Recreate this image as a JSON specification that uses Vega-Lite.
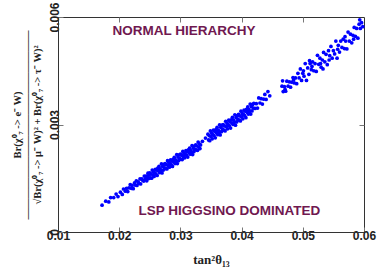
{
"$schema": "https://vega.github.io/schema/vega-lite/v6.json",
"width": 306, "height": 215,
"autosize": {"type": "none"},
"padding": {"left": 58, "top": 17, "right": 14, "bottom": 41},
"config": {
 "view": {"stroke": "#333", "strokeWidth": 1},
 "axis": {"grid": false, "labelFlush": false, "domainColor": "#333", "tickColor": "#777", "tickSize": -5, "labelFont": "Liberation Sans", "labelFontWeight": "bold", "labelFontSize": 12, "labelColor": "#222", "titleFont": "Liberation Serif", "titleFontWeight": "bold", "titleColor": "#222"}
},
"datasets": {
 "labels": [
  {"x": 0.0306, "y": 0.00561, "t": "NORMAL HIERARCHY"},
  {"x": 0.0380, "y": 0.00059, "t": "LSP HIGGSINO DOMINATED"}
 ],
 "pts": [
{"x":0.0172,"y":0.00075},{"x":0.0178,"y":0.00086},{"x":0.0183,"y":0.00084},{"x":0.0186,"y":0.00096},{"x":0.0191,"y":0.00096},{"x":0.0195,"y":0.00106},{"x":0.0198,"y":0.00099},{"x":0.0202,"y":0.00111},{"x":0.0205,"y":0.00105},{"x":0.0207,"y":0.0012},{"x":0.021,"y":0.00114},{"x":0.0212,"y":0.00122},{"x":0.0214,"y":0.00113},{"x":0.0216,"y":0.00123},{"x":0.0218,"y":0.00132},{"x":0.022,"y":0.00122},{"x":0.0221,"y":0.0013},{"x":0.0223,"y":0.00121},{"x":0.0225,"y":0.00137},{"x":0.0226,"y":0.00131},{"x":0.0228,"y":0.00143},{"x":0.0229,"y":0.0013},{"x":0.0231,"y":0.0014},{"x":0.0232,"y":0.00136},{"x":0.0234,"y":0.00148},{"x":0.0235,"y":0.00134},{"x":0.0237,"y":0.00148},{"x":0.0238,"y":0.00145},{"x":0.024,"y":0.00142},{"x":0.0241,"y":0.00156},{"x":0.0243,"y":0.00148},{"x":0.0244,"y":0.00156},{"x":0.0245,"y":0.00143},{"x":0.0246,"y":0.00155},{"x":0.0247,"y":0.00164},{"x":0.0248,"y":0.00149},{"x":0.0249,"y":0.00159},
{"x":0.025,"y":0.00165},{"x":0.0251,"y":0.00151},{"x":0.0252,"y":0.00162},{"x":0.0253,"y":0.0015},{"x":0.0254,"y":0.00173},{"x":0.0255,"y":0.00159},{"x":0.0256,"y":0.00168},{"x":0.0257,"y":0.00155},{"x":0.0258,"y":0.00165},{"x":0.0259,"y":0.00175},{"x":0.026,"y":0.00162},{"x":0.0261,"y":0.00173},{"x":0.0262,"y":0.00158},{"x":0.0263,"y":0.00178},{"x":0.0264,"y":0.00171},{"x":0.0265,"y":0.00183},{"x":0.0266,"y":0.00166},{"x":0.0267,"y":0.00176},{"x":0.0268,"y":0.00172},{"x":0.0269,"y":0.0019},{"x":0.027,"y":0.00165},{"x":0.0271,"y":0.00183},{"x":0.0272,"y":0.00173},{"x":0.0273,"y":0.00189},{"x":0.0274,"y":0.00179},{"x":0.0275,"y":0.00191},{"x":0.0276,"y":0.00177},{"x":0.0277,"y":0.00188},{"x":0.0278,"y":0.00176},{"x":0.0279,"y":0.00199},{"x":0.028,"y":0.00185},{"x":0.0281,"y":0.00194},{"x":0.0282,"y":0.00181},{"x":0.0283,"y":0.00191},{"x":0.0284,"y":0.00201},{"x":0.0285,"y":0.00188},{"x":0.0286,"y":0.00198},{"x":0.0287,"y":0.00183},{"x":0.0288,"y":0.00203},{"x":0.0289,"y":0.00196},{"x":0.029,"y":0.00208},{"x":0.0291,"y":0.00191},{"x":0.0292,"y":0.00201},{"x":0.0293,"y":0.00197},{"x":0.0294,"y":0.00216},{"x":0.0295,"y":0.00191},{"x":0.0296,"y":0.00209},{"x":0.0297,"y":0.00199},{"x":0.0298,"y":0.00215},{"x":0.0299,"y":0.00205},{"x":0.03,"y":0.00217},{"x":0.0301,"y":0.00203},{"x":0.0302,"y":0.00214},{"x":0.0303,"y":0.00202},{"x":0.0304,"y":0.00225},{"x":0.0305,"y":0.00211},{"x":0.0306,"y":0.0022},{"x":0.0307,"y":0.00207},{"x":0.0308,"y":0.00217},{"x":0.0309,"y":0.00227},{"x":0.031,"y":0.00214},{"x":0.0311,"y":0.00224},{"x":0.0312,"y":0.00209},{"x":0.0313,"y":0.00229},{"x":0.0314,"y":0.00222},{"x":0.0315,"y":0.00234},{"x":0.0316,"y":0.00217},{"x":0.0317,"y":0.00227},{"x":0.0318,"y":0.00223},{"x":0.0319,"y":0.00241},{"x":0.032,"y":0.00216},{"x":0.0321,"y":0.00234},{"x":0.0322,"y":0.00224},{"x":0.0323,"y":0.0024},{"x":0.0324,"y":0.0023},{"x":0.0325,"y":0.00243},{"x":0.0326,"y":0.00229},{"x":0.0327,"y":0.0024},{"x":0.0328,"y":0.00228},{"x":0.0329,"y":0.00251},{"x":0.033,"y":0.00237},{"x":0.0331,"y":0.00246},{"x":0.0332,"y":0.00233},{"x":0.0333,"y":0.00243},
{"x":0.0336,"y":0.00253},{"x":0.0341,"y":0.00262},
{"x":0.0345,"y":0.00273},{"x":0.0346,"y":0.00257},{"x":0.0347,"y":0.00269},{"x":0.0348,"y":0.00255},{"x":0.0349,"y":0.00282},{"x":0.035,"y":0.00266},{"x":0.0351,"y":0.00276},{"x":0.0352,"y":0.0026},{"x":0.0353,"y":0.00272},{"x":0.0354,"y":0.00284},{"x":0.0355,"y":0.00269},{"x":0.0356,"y":0.00281},{"x":0.0357,"y":0.00263},{"x":0.0358,"y":0.00286},{"x":0.0359,"y":0.00277},{"x":0.036,"y":0.00292},{"x":0.0361,"y":0.00272},{"x":0.0362,"y":0.00284},{"x":0.0363,"y":0.00278},{"x":0.0364,"y":0.00299},{"x":0.0365,"y":0.00271},{"x":0.0366,"y":0.00292},{"x":0.0367,"y":0.0028},{"x":0.0368,"y":0.00298},{"x":0.0369,"y":0.00287},{"x":0.037,"y":0.003},{"x":0.0371,"y":0.00284},{"x":0.0372,"y":0.00296},{"x":0.0373,"y":0.00282},{"x":0.0374,"y":0.00309},{"x":0.0375,"y":0.00294},{"x":0.0376,"y":0.00304},{"x":0.0377,"y":0.00288},{"x":0.0378,"y":0.003},{"x":0.0379,"y":0.00312},{"x":0.038,"y":0.00296},{"x":0.0381,"y":0.00308},{"x":0.0382,"y":0.0029},{"x":0.0383,"y":0.00313},{"x":0.0384,"y":0.00304},{"x":0.0385,"y":0.0032},{"x":0.0386,"y":0.003},{"x":0.0387,"y":0.00312},{"x":0.0388,"y":0.00306},{"x":0.0389,"y":0.00327},{"x":0.039,"y":0.00298},{"x":0.0391,"y":0.00319},{"x":0.0392,"y":0.00307},{"x":0.0393,"y":0.00325},{"x":0.0394,"y":0.00314},{"x":0.0395,"y":0.00328},{"x":0.0396,"y":0.00312},{"x":0.0397,"y":0.00324},{"x":0.0398,"y":0.0031},{"x":0.0399,"y":0.00337},
{"x":0.04,"y":0.00321},{"x":0.0401,"y":0.00331},{"x":0.0402,"y":0.00316},{"x":0.0403,"y":0.00328},{"x":0.0404,"y":0.0034},{"x":0.0405,"y":0.00325},{"x":0.0406,"y":0.00337},{"x":0.0407,"y":0.00319},{"x":0.0408,"y":0.00342},{"x":0.0409,"y":0.00334},{"x":0.041,"y":0.00349},{"x":0.0411,"y":0.00329},{"x":0.0412,"y":0.00342},{"x":0.0413,"y":0.00336},{"x":0.0414,"y":0.00357},{"x":0.0415,"y":0.00329},{"x":0.0416,"y":0.0035},{"x":0.0417,"y":0.00338},{"x":0.0418,"y":0.00356},{"x":0.0419,"y":0.00346},{"x":0.042,"y":0.00359},{"x":0.0422,"y":0.00345},{"x":0.0424,"y":0.00358},{"x":0.0426,"y":0.00346},{"x":0.0428,"y":0.00374},{"x":0.043,"y":0.0036},{"x":0.0432,"y":0.00372},{"x":0.0434,"y":0.00357},{"x":0.0436,"y":0.00371},{"x":0.0438,"y":0.00384},{"x":0.044,"y":0.0037},{"x":0.0443,"y":0.00392},{"x":0.0446,"y":0.0038},
{"x":0.0466,"y":0.00407},{"x":0.0467,"y":0.00422},{"x":0.0468,"y":0.00392},{"x":0.047,"y":0.00406},{"x":0.0471,"y":0.00398},{"x":0.0472,"y":0.00393},{"x":0.0474,"y":0.00421},{"x":0.0476,"y":0.00407},{"x":0.0478,"y":0.00419},{"x":0.048,"y":0.00404},{"x":0.0482,"y":0.00418},{"x":0.0484,"y":0.00431},{"x":0.0485,"y":0.00425},{"x":0.0486,"y":0.00416},{"x":0.0488,"y":0.0043},{"x":0.049,"y":0.00414},{"x":0.0492,"y":0.00443},{"x":0.0494,"y":0.0043},{"x":0.0496,"y":0.00455},{"x":0.0498,"y":0.00423},{"x":0.05,"y":0.00443},{"x":0.0501,"y":0.0045},{"x":0.0502,"y":0.00435},{"x":0.0504,"y":0.0047},{"x":0.0506,"y":0.00423},{"x":0.0508,"y":0.00458},{"x":0.051,"y":0.0044},{"x":0.0511,"y":0.00478},{"x":0.0512,"y":0.0047},{"x":0.0514,"y":0.00453},{"x":0.0515,"y":0.00462},{"x":0.0516,"y":0.00475},{"x":0.0518,"y":0.0045},{"x":0.052,"y":0.0047},{"x":0.0522,"y":0.00448},{"x":0.0524,"y":0.00493},{"x":0.0526,"y":0.00468},{"x":0.0528,"y":0.00485},{"x":0.0529,"y":0.0047},{"x":0.053,"y":0.0046},{"x":0.0532,"y":0.0048},{"x":0.0533,"y":0.00455},{"x":0.0534,"y":0.00501},{"x":0.0536,"y":0.00475},{"x":0.0538,"y":0.00496},{"x":0.054,"y":0.00467},{"x":0.0542,"y":0.00506},{"x":0.0543,"y":0.0048},{"x":0.0544,"y":0.00492},{"x":0.0546,"y":0.00518},{"x":0.0548,"y":0.00485},{"x":0.055,"y":0.00506},{"x":0.0552,"y":0.00497},{"x":0.0554,"y":0.00533},{"x":0.0556,"y":0.00485},{"x":0.0557,"y":0.0051},{"x":0.0558,"y":0.00521},{"x":0.056,"y":0.00502},{"x":0.0562,"y":0.00533},{"x":0.0564,"y":0.00515},{"x":0.0566,"y":0.00538},{"x":0.0568,"y":0.00512},{"x":0.0569,"y":0.00545},{"x":0.057,"y":0.00533},{"x":0.0572,"y":0.00511},{"x":0.0574,"y":0.00558},{"x":0.0576,"y":0.00533},{"x":0.0578,"y":0.00552},{"x":0.058,"y":0.00528},{"x":0.0582,"y":0.00549},{"x":0.0583,"y":0.00538},{"x":0.0584,"y":0.00571},{"x":0.0586,"y":0.00546},{"x":0.0588,"y":0.00568},{"x":0.059,"y":0.00541},{"x":0.0592,"y":0.0058},{"x":0.0593,"y":0.00592},{"x":0.0594,"y":0.00568},{"x":0.0596,"y":0.00584},{"x":0.0598,"y":0.00573}
 ]
},
"layer": [
 {
  "data": {"name": "pts"},
  "mark": {"type": "circle", "size": 14, "color": "#0000ff", "opacity": 1},
  "encoding": {
   "x": {"field": "x", "type": "quantitative", "scale": {"domain": [0.01, 0.06], "nice": false, "zero": false},
    "axis": {"values": [0.01, 0.02, 0.03, 0.04, 0.05, 0.06], "format": ".2f", "labelPadding": 3, "title": "tan²θ₁₃", "titleFontSize": 13, "titlePadding": 12}},
   "y": {"field": "y", "type": "quantitative", "scale": {"domain": [0, 0.006], "nice": false, "zero": false},
    "axis": {"values": [0, 0.003, 0.006], "format": "~g", "labelAngle": -90, "labelAlign": "center", "labelBaseline": "bottom", "labelPadding": 2,
     "title": ["Br(χ⁰₇ -> e⁻ W)", "——————————————————", "√Br(χ⁰₇ -> μ⁻ W)² + Br(χ⁰₇ -> τ⁻ W)²"], "titleFontSize": 10.5, "titleLineHeight": 10, "titlePadding": 6}}
  }
 },
 {
  "data": {"name": "labels"},
  "mark": {"type": "text", "font": "Liberation Sans", "fontWeight": "bold", "fontSize": 13.5, "color": "#701850"},
  "encoding": {
   "x": {"field": "x", "type": "quantitative", "scale": {"domain": [0.01, 0.06], "nice": false, "zero": false}, "axis": null},
   "y": {"field": "y", "type": "quantitative", "scale": {"domain": [0, 0.006], "nice": false, "zero": false}, "axis": null},
   "text": {"field": "t"}
  }
 },
 {
  "data": {"name": "pts"},
  "mark": {"type": "point", "opacity": 0},
  "encoding": {
   "x": {"field": "x", "type": "quantitative", "scale": {"domain": [0.01, 0.06], "nice": false, "zero": false},
    "axis": {"orient": "top", "values": [0.02, 0.03, 0.04, 0.05], "labels": false, "title": null, "domain": false}},
   "y": {"field": "y", "type": "quantitative", "scale": {"domain": [0, 0.006], "nice": false, "zero": false},
    "axis": {"orient": "right", "values": [0.003], "labels": false, "title": null, "domain": false}}
  }
 }
],
"resolve": {"axis": {"x": "independent", "y": "independent"}}
}
